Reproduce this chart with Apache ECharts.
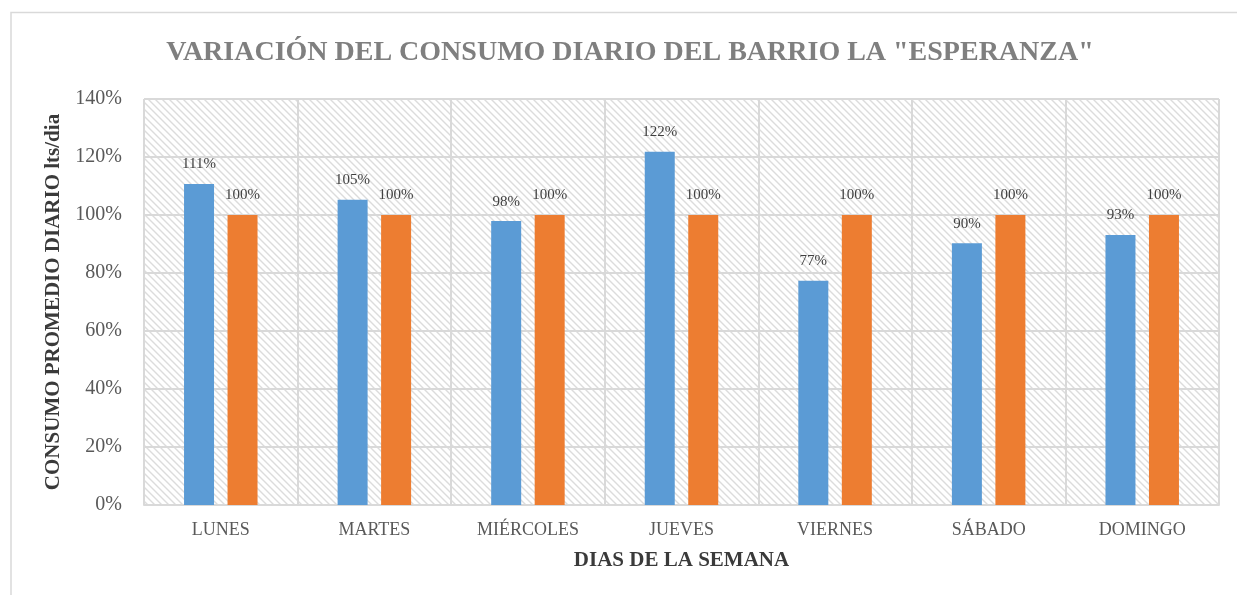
<!DOCTYPE html>
<html>
<head>
<meta charset="utf-8">
<script src="https://cdn.jsdelivr.net/npm/echarts@6/dist/echarts.min.js"></script>
<style>
  html, body { margin: 0; padding: 0; background: #fff; }
  #main { width: 1237px; height: 595px; }
</style>
</head>
<body>
<div id="main"></div>
<script>
// datos
const dias = ['LUNES', 'MARTES', 'MIÉRCOLES', 'JUEVES', 'VIERNES', 'SÁBADO', 'DOMINGO']
const consumo = [1.107, 1.053, 0.979, 1.218, 0.773, 0.903, 0.931]
const promedio = [1, 1, 1, 1, 1, 1, 1]
const ticksY = [0, 0.2, 0.4, 0.6, 0.8, 1.0, 1.2, 1.4]

const serif = '"Liberation Serif", "Times New Roman", serif'

// trama diagonal del fondo
function hatch() {
  const p = 7
  const c = document.createElement('canvas')
  c.width = p; c.height = p
  const ctx = c.getContext('2d')
  ctx.fillStyle = '#ffffff'
  ctx.fillRect(0, 0, p, p)
  ctx.strokeStyle = '#dcdcdc'
  ctx.lineWidth = 1.4
  ctx.beginPath()
  ctx.moveTo(-1, -1); ctx.lineTo(p + 1, p + 1)
  ctx.moveTo(-1, p - 1); ctx.lineTo(1, p + 1)
  ctx.moveTo(p - 1, -1); ctx.lineTo(p + 1, 1)
  ctx.stroke()
  return c
}

const pct = v => Math.round(v * 100) + '%'

let myChart = echarts.init(document.getElementById('main'))

myChart.setOption({
  animation: false,
  backgroundColor: '#fff',
  graphic: [{
    type: 'rect',
    shape: { x: 11, y: 12.5, width: 1240, height: 600 },
    style: { fill: 'none', stroke: '#d9d9d9', lineWidth: 1.5 },
    silent: true
  }],
  title: {
    text: 'VARIACIÓN DEL CONSUMO DIARIO DEL BARRIO LA "ESPERANZA"',
    left: 625,
    textAlign: 'center',
    top: 34,
    textStyle: { fontFamily: serif, fontSize: 28, fontWeight: 'bold', color: '#7f7f7f' }
  },
  grid: {
    left: 144, right: 18, top: 99, bottom: 90,
    show: true,
    backgroundColor: { image: hatch(), repeat: 'repeat' },
    borderWidth: 0
  },
  xAxis: {
    type: 'category',
    data: dias,
    name: 'DIAS DE LA SEMANA',
    nameLocation: 'middle',
    nameGap: 45,
    nameTextStyle: { fontFamily: serif, fontSize: 21, fontWeight: 'bold', color: '#3a3a3a' },
    axisLine: { lineStyle: { color: '#d9d9d9', width: 2 } },
    axisTick: { show: false },
    axisLabel: { fontFamily: serif, fontSize: 18, color: '#595959', margin: 16 },
    splitLine: { show: true, lineStyle: { color: '#d9d9d9', width: 2 } }
  },
  yAxis: {
    type: 'value',
    min: 0,
    max: ticksY[ticksY.length - 1],
    interval: 0.2,
    name: 'CONSUMO PROMEDIO DIARIO lts/dia',
    nameLocation: 'middle',
    nameGap: 72,
    nameTextStyle: { fontFamily: serif, fontSize: 21, fontWeight: 'bold', color: '#3a3a3a' },
    axisLine: { show: false },
    axisTick: { show: false },
    axisLabel: { fontFamily: serif, fontSize: 20, color: '#595959', margin: 22, formatter: pct },
    splitLine: { lineStyle: { color: '#d9d9d9', width: 2 } }
  },
  series: [{
    name: 'Consumo',
    type: 'bar',
    data: consumo,
    barWidth: 30,
    barGap: '45%',
    itemStyle: { color: '#5b9bd5' },
    label: {
      show: true, position: 'top', distance: 12,
      fontFamily: serif, fontSize: 15, color: '#404040',
      formatter: p => pct(p.value)
    }
  }, {
    name: 'Promedio',
    type: 'bar',
    data: promedio,
    barWidth: 30,
    itemStyle: { color: '#ed7d31' },
    label: {
      show: true, position: 'top', distance: 12,
      fontFamily: serif, fontSize: 15, color: '#404040',
      formatter: p => pct(p.value)
    }
  }]
})
</script>
</body>
</html>
